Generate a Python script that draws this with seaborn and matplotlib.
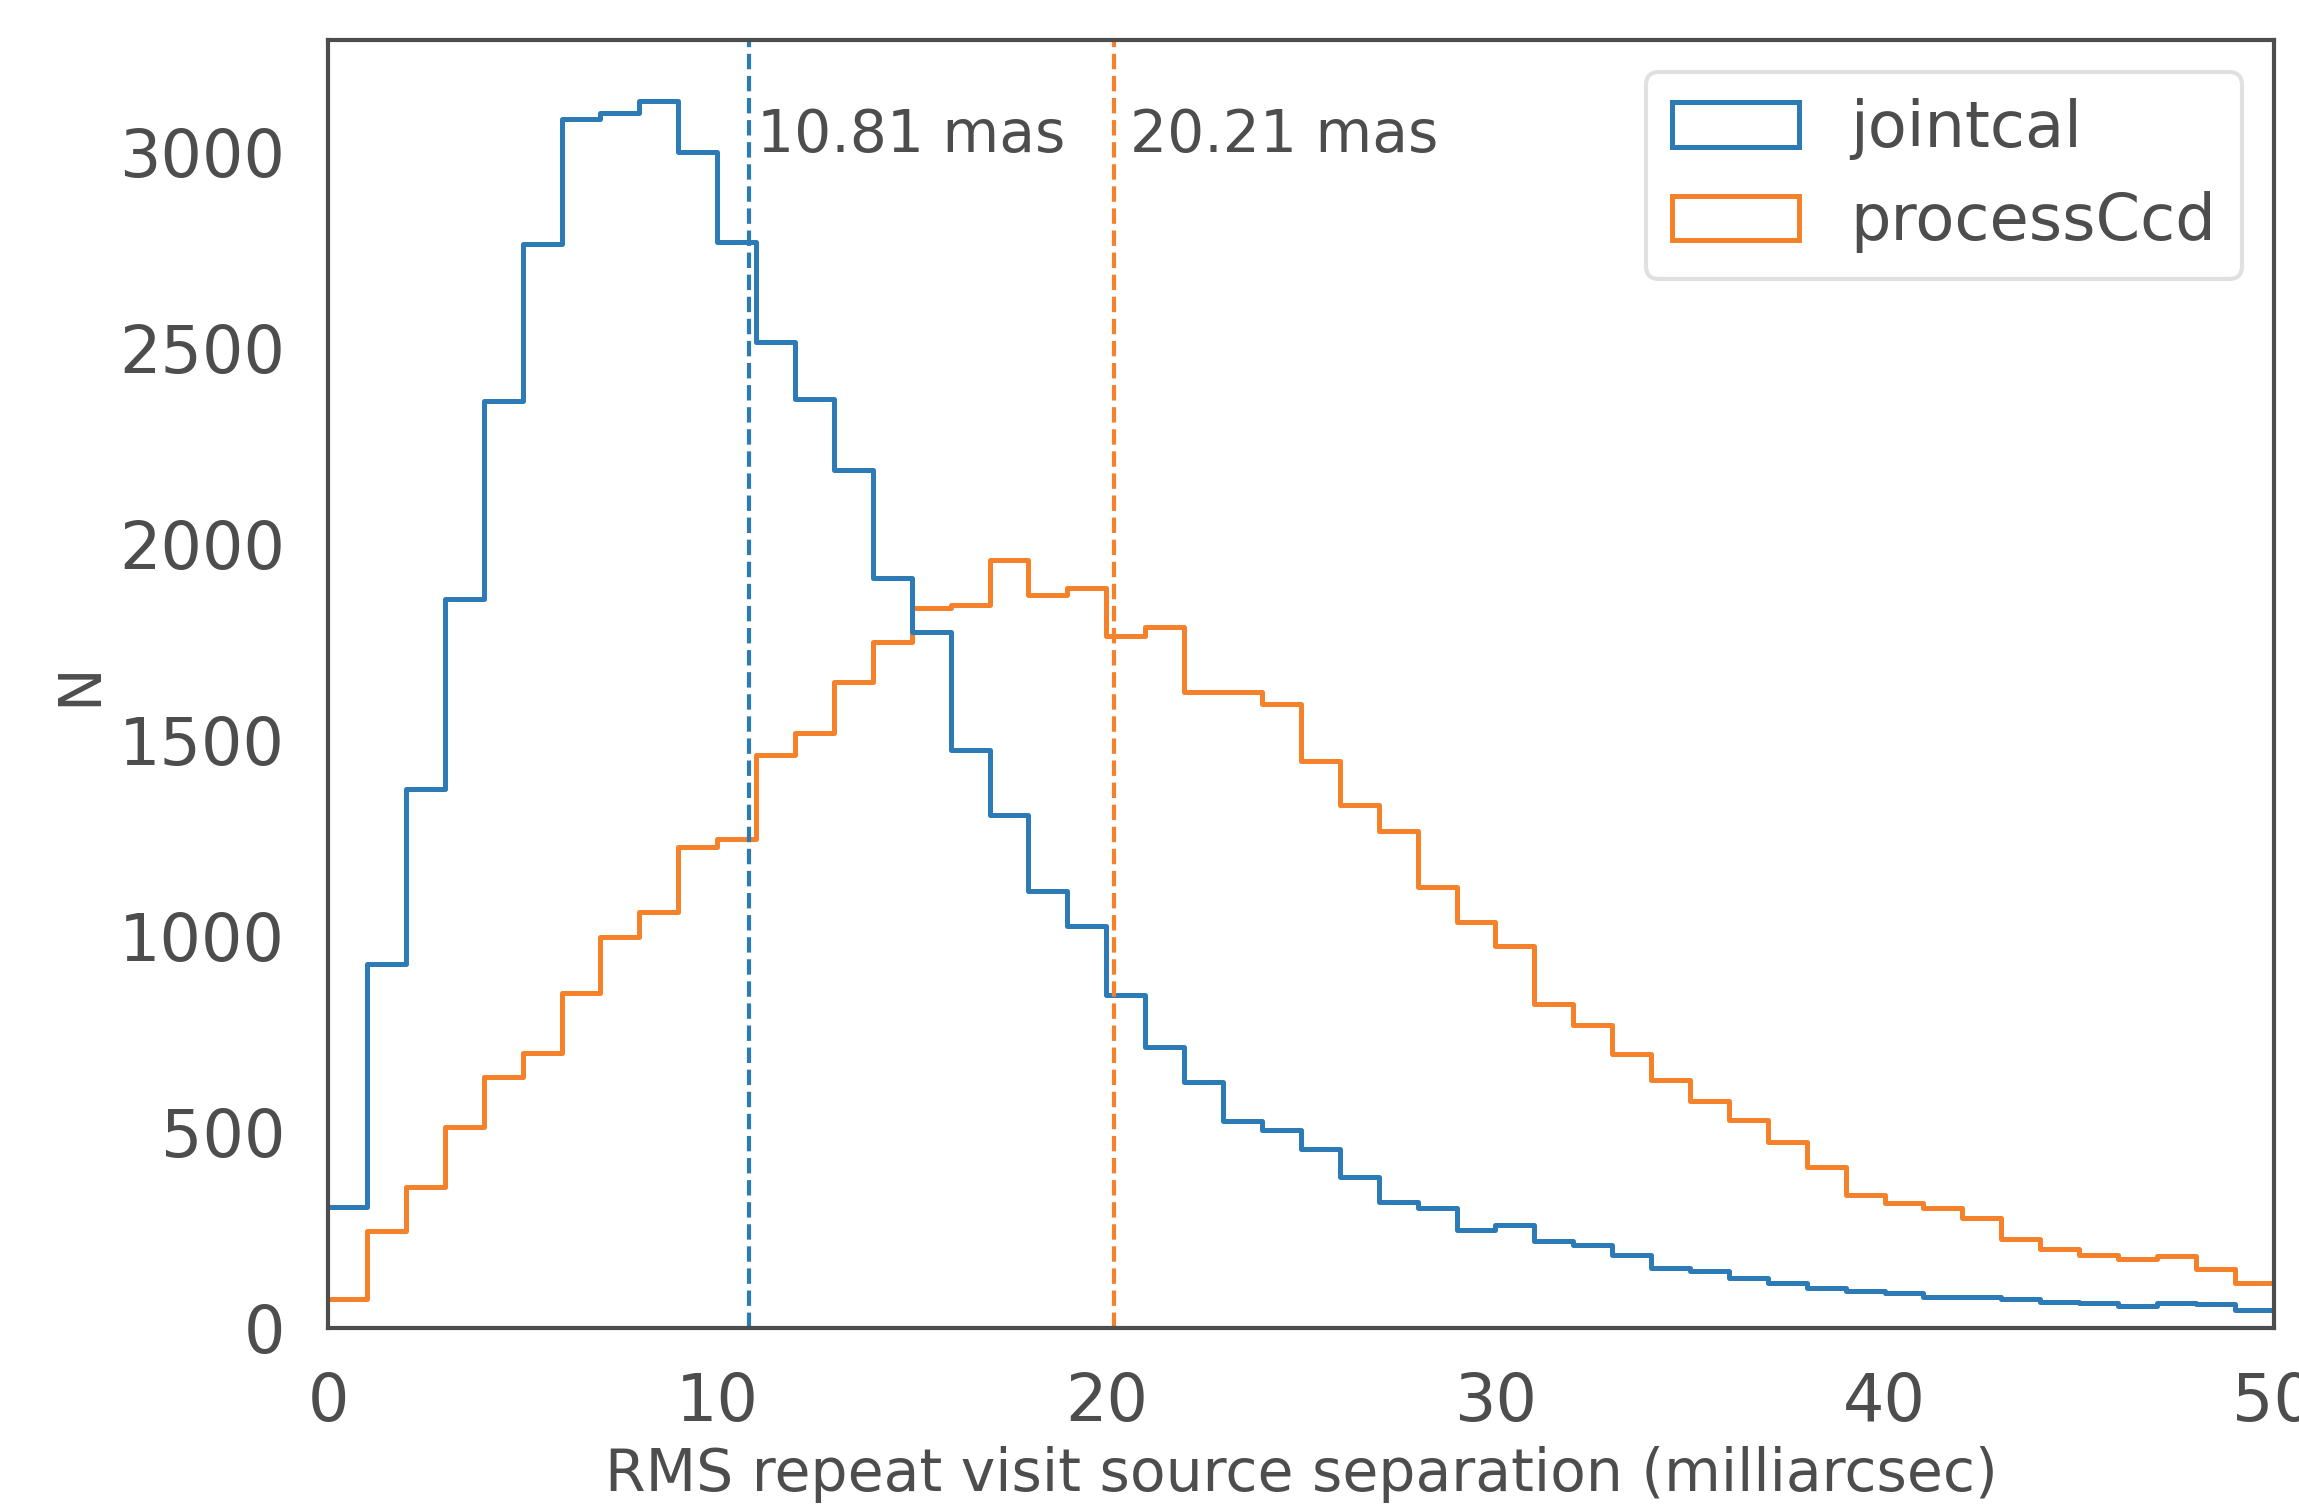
import numpy as np
import pandas as pd
import matplotlib
matplotlib.use("Agg")
import matplotlib.pyplot as plt
from matplotlib.patches import Patch
import seaborn as sns

# bin edges 0..50 mas, 1 mas wide
bin_edges = np.arange(0, 51, 1)
bin_centers = bin_edges[:-1] + 0.5

jointcal_counts = [
    310, 930, 1375, 1860, 2365, 2765, 3085, 3100, 3130, 3000,
    2770, 2515, 2370, 2190, 1915, 1775, 1475, 1310, 1115, 1025,
    850, 718, 628, 527, 505, 456, 385, 322, 307, 251,
    262, 221, 213, 187, 153, 146, 127, 116, 101, 94,
    90, 79, 79, 75, 67, 63, 56, 63, 60, 45,
]
processccd_counts = [
    75, 247, 359, 512, 640, 703, 856, 999, 1062, 1227,
    1249, 1462, 1518, 1649, 1750, 1836, 1844, 1960, 1870, 1889,
    1765, 1788, 1623, 1623, 1593, 1447, 1335, 1268, 1126, 1036,
    976, 827, 774, 699, 632, 580, 531, 475, 411, 340,
    318, 307, 280, 228, 202, 187, 176, 183, 150, 116,
]
labels = ["jointcal", "processCcd"]
medians = [10.81, 20.21]
colors = ["#2c7bb6", "#f5822a"]

df = pd.DataFrame({
    "sep": np.concatenate([bin_centers, bin_centers]),
    "N": np.concatenate([jointcal_counts, processccd_counts]).astype(float),
    "pipeline": [labels[0]] * len(bin_centers) + [labels[1]] * len(bin_centers),
})

sns.set_theme(style="white")
text_grey = "#4d4d4d"
plt.rcParams.update({
    "font.family": ["DejaVu Sans"],
    "text.color": text_grey,
    "axes.labelcolor": text_grey,
    "axes.edgecolor": text_grey,
    "xtick.color": text_grey,
    "ytick.color": text_grey,
    "axes.linewidth": 1.5,
})

fig = plt.figure(figsize=(11.495, 7.525), dpi=200)
ax = fig.add_axes([0.1427, 0.1176, 0.8463, 0.8558])

sns.histplot(data=df, x="sep", weights="N", hue="pipeline", hue_order=labels,
             bins=len(bin_centers), binrange=(bin_edges[0], bin_edges[-1]),
             element="step", fill=False, palette=colors,
             linewidth=1.8, legend=False, ax=ax)

for m, c in zip(medians, colors):
    ax.axvline(m, color=c, ls="--", lw=1.5)
    ax.text(m * 1.02, 3000, f"{m:.2f} mas", fontsize=21)

ax.set_xlim(0, 50)
ax.set_ylim(0, max(jointcal_counts) * 1.05)
ax.set_xlabel("RMS repeat visit source separation (milliarcsec)", fontsize=21)
ax.set_ylabel("N", fontsize=21)
ax.tick_params(labelsize=23.5, pad=9.5)

handles = [Patch(facecolor="none", edgecolor=c, linewidth=1.8) for c in colors]
leg = ax.legend(handles, labels, loc="upper right", fontsize=23, frameon=True)
leg.get_frame().set_edgecolor("#d9d9d9")
leg.get_frame().set_linewidth(1.5)

fig.savefig("out.png", dpi=200)
